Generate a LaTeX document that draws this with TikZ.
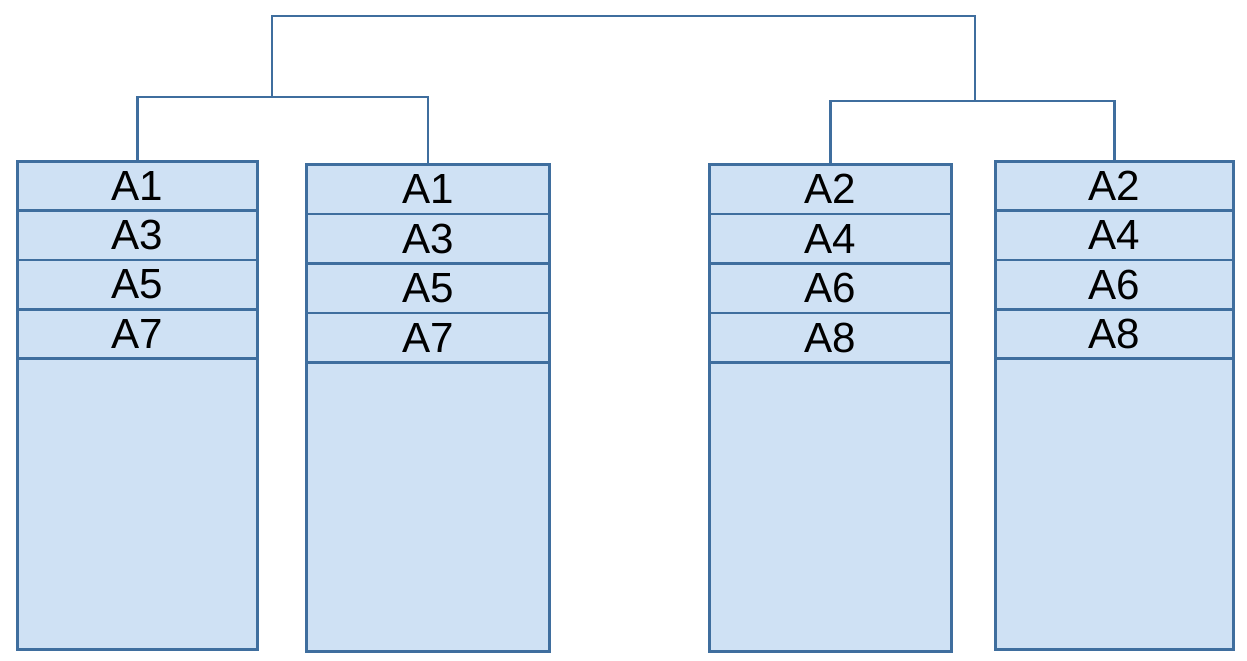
\documentclass[tikz,border=0pt]{standalone}
\usepackage{fontspec}
\setmainfont{Liberation Sans}
\begin{document}
\begin{tikzpicture}[x=0.02cm,y=-0.02cm,
  col/.style={draw=none,fill=blue!40!cyan!25!white,inner sep=0},
  cell/.style={draw=edge,line width=1.6pt,inner sep=0,font=\fontsize{24}{24}\selectfont},
  link/.style={draw=edge,line width=1.6pt}]
\definecolor{edge}{HTML}{3F6E9E}
\definecolor{fillc}{HTML}{CFE1F4}
\useasboundingbox (0,0) rectangle (1247,660);
% columns: name / left / right / top / bottom / row height / labels
\foreach \n/\l/\r/\t/\b/\h/\a/\bb/\c/\d in {
  c1/16/256/160/648/49.25/A1/A3/A5/A7,
  c2/305/548/163/650/49.5/A1/A3/A5/A7,
  c3/708/950/163/650/49.5/A2/A4/A6/A8,
  c4/994/1232/160/648/49.25/A2/A4/A6/A8}{
  \fill[fillc] (\l,\t) rectangle (\r,\b);
  \node[cell,fill=none,minimum width={(\r-\l)*0.02cm},minimum height={(\b-\t)*0.02cm},anchor=north west] (\n) at (\l,\t) {};
  \foreach \lab [count=\i] in {\a,\bb,\c,\d}{
    \node[cell,minimum width={(\r-\l)*0.02cm},minimum height={\h*0.02cm},anchor=north west] (\n-\i) at (\l,{\t+(\i-1)*\h}) {\lab};
  }
}
\coordinate (j1) at (272,97);
\coordinate (j2) at (975,101);
\coordinate (top) at (272,16);
\draw[link] (c1.north) |- (j1) -| (c2.north);
\draw[link] (c3.north) |- (j2) -| (c4.north);
\draw[link] (j1) -- (top) -| (j2);
\end{tikzpicture}
\end{document}
